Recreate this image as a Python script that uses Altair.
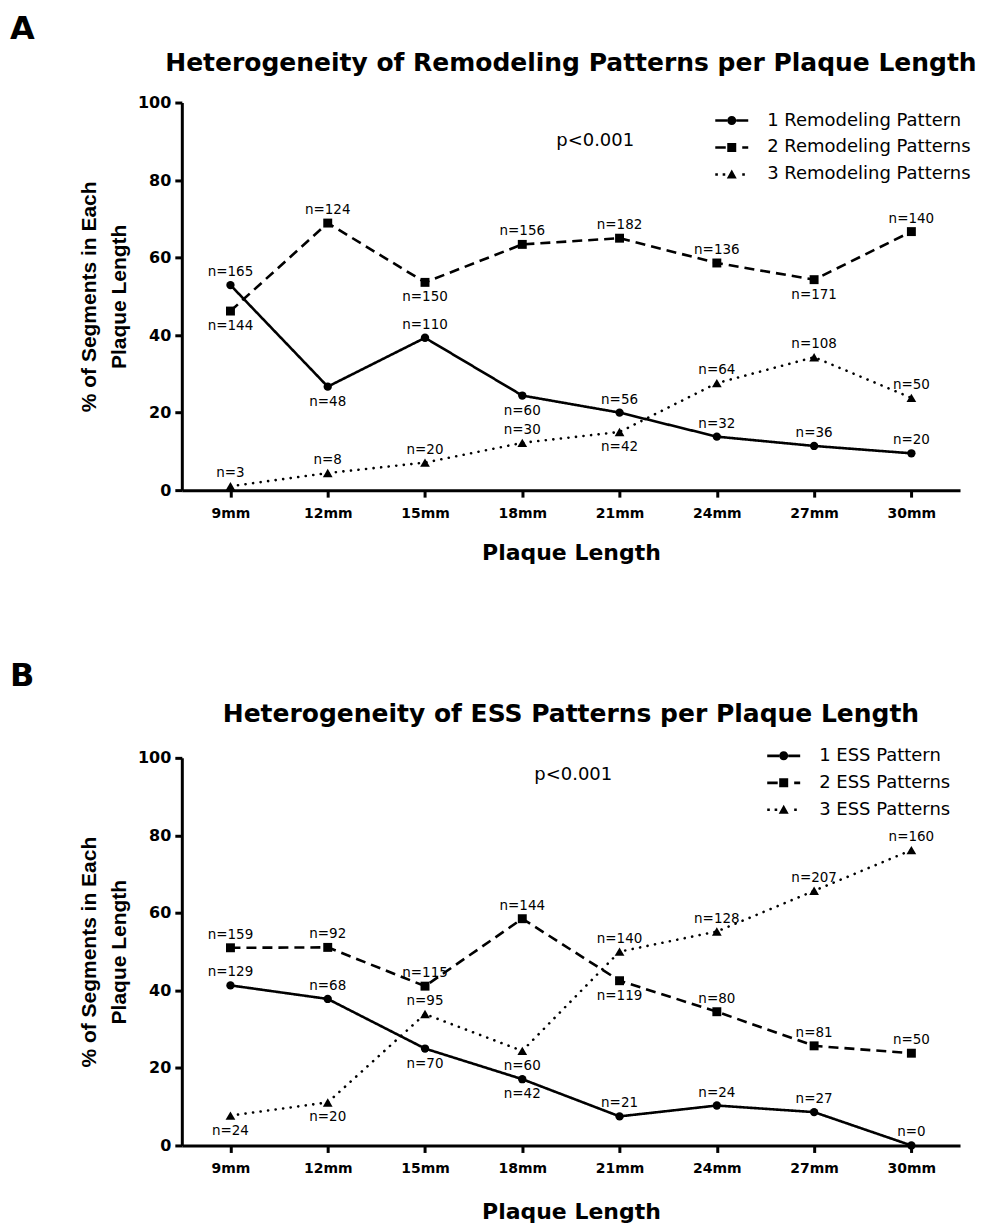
import altair as alt
import pandas as pd

lengths = ["9mm", "12mm", "15mm", "18mm", "21mm", "24mm", "27mm", "30mm"]

# ---- Panel A: remodeling patterns ----
a_names = ["1 Remodeling Pattern", "2 Remodeling Patterns", "3 Remodeling Patterns"]
a_pct_1 = [52.9, 26.7, 39.3, 24.4, 20.0, 13.8, 11.4, 9.5]
a_pct_2 = [46.2, 68.9, 53.6, 63.4, 65.0, 58.6, 54.3, 66.7]
a_pct_3 = [1.0, 4.4, 7.1, 12.2, 15.0, 27.6, 34.3, 23.8]
a_n_1 = [165, 48, 110, 60, 56, 32, 36, 20]
a_n_2 = [144, 124, 150, 156, 182, 136, 171, 140]
a_n_3 = [3, 8, 20, 30, 42, 64, 108, 50]
a_side_1 = ["up", "down", "up", "down", "up", "up", "up", "up"]
a_side_2 = ["down", "up", "down", "up", "up", "up", "down", "up"]
a_side_3 = ["up", "up", "up", "up", "down", "up", "up", "up"]

# ---- Panel B: ESS patterns ----
b_names = ["1 ESS Pattern", "2 ESS Patterns", "3 ESS Patterns"]
b_pct_1 = [41.3, 37.8, 25.0, 17.1, 7.5, 10.3, 8.6, 0.0]
b_pct_2 = [51.0, 51.1, 41.1, 58.5, 42.5, 34.5, 25.7, 23.8]
b_pct_3 = [7.7, 11.1, 33.9, 24.4, 50.0, 55.2, 65.7, 76.2]
b_n_1 = [129, 68, 70, 42, 21, 24, 27, 0]
b_n_2 = [159, 92, 115, 144, 119, 80, 81, 50]
b_n_3 = [24, 20, 95, 60, 140, 128, 207, 160]
b_side_1 = ["up", "up", "down", "down", "up", "up", "up", "up"]
b_side_2 = ["up", "up", "up", "up", "down", "up", "up", "up"]
b_side_3 = ["down", "down", "up", "down", "up", "up", "up", "up"]

p_text = "p<0.001"

FONT = "DejaVu Sans"

# legend glyphs: line + marker drawn as custom symbol paths
LEG_PATHS = [
    # solid line with circle
    "M-1,-0.13L0.2,-0.13L0.2,0.13L-1,0.13Z"
    "M1.1,-0.13L2.3,-0.13L2.3,0.13L1.1,0.13Z"
    "M0.2,0A0.45,0.45 0 1,1 1.1,0A0.45,0.45 0 1,1 0.2,0Z",
    # dash, square, short dash
    "M-1,-0.13L0.05,-0.13L0.05,0.13L-1,0.13Z"
    "M0.2,-0.45L1.1,-0.45L1.1,0.45L0.2,0.45Z"
    "M1.7,-0.13L2.3,-0.13L2.3,0.13L1.7,0.13Z",
    # dots, triangle, dot
    "M-1,-0.13L-0.74,-0.13L-0.74,0.13L-1,0.13Z"
    "M-0.26,-0.13L0,-0.13L0,0.13L-0.26,0.13Z"
    "M0.65,-0.5L1.15,0.4L0.15,0.4Z"
    "M1.7,-0.13L1.96,-0.13L1.96,0.13L1.7,0.13Z",
]


def build_df(names, pcts, ns, sides):
    rows = []
    for nm, pc, nn, sd in zip(names, pcts, ns, sides):
        for i, (L, v, k, d) in enumerate(zip(lengths, pc, nn, sd)):
            rows.append({"length": L, "idx": i, "pct": v, "n": f"n={k}",
                         "series": nm, "side": d})
    return pd.DataFrame(rows)


def panel(names, pcts, ns, sides, title, leg_x, leg_y, p_x, p_dx, p_y, xt_pad):
    df = build_df(names, pcts, ns, sides)
    x = alt.X("length:N",
              scale=alt.Scale(type="point", domain=lengths, padding=0.5),
              axis=alt.Axis(title="Plaque Length", labelAngle=0,
                            labelFont=FONT, labelFontWeight="bold", labelFontSize=14,
                            labelColor="black", labelPadding=9,
                            tickSize=7, tickWidth=3, tickColor="black",
                            domainColor="black", domainWidth=3,
                            titleFont=FONT, titleFontSize=22, titleFontWeight="bold",
                            titleColor="black", titlePadding=xt_pad, grid=False))
    y = alt.Y("pct:Q",
              scale=alt.Scale(domain=[0, 100]),
              axis=alt.Axis(values=[0, 20, 40, 60, 80, 100],
                            title=["% of Segments in Each", "Plaque Length"],
                            labelFont=FONT, labelFontWeight="bold", labelFontSize=16,
                            labelColor="black", labelPadding=4,
                            tickSize=7, tickWidth=3, tickColor="black",
                            domainColor="black", domainWidth=3,
                            titleFont="Liberation Sans", titleFontSize=21,
                            titleFontWeight="bold", titleColor="black",
                            titleLineHeight=30, titlePadding=8, grid=False))
    base = alt.Chart(df).encode(x=x, y=y)
    dashes = [[1, 0], [10, 6], [0.1, 7.5]]
    caps = ["butt", "butt", "round"]
    shapes = ["circle", "square", "triangle-up"]
    sizes = [70, 80, 95]
    layers = []
    for i, nm in enumerate(names):
        layers.append(
            base.transform_filter(alt.datum.series == nm)
            .mark_line(color="black", strokeWidth=2.6, strokeDash=dashes[i],
                       strokeCap=caps[i])
            .encode(order="idx:Q"))
    for i, nm in enumerate(names):
        layers.append(
            base.transform_filter(alt.datum.series == nm)
            .mark_point(shape=shapes[i], filled=True, color="black",
                        size=sizes[i], opacity=1))
    layers.append(
        base.transform_filter(alt.datum.side == "up")
        .mark_text(font=FONT, fontSize=13.5, color="black", dy=-13)
        .encode(text="n:N"))
    layers.append(
        base.transform_filter(alt.datum.side == "down")
        .mark_text(font=FONT, fontSize=13.5, color="black", dy=15)
        .encode(text="n:N"))
    layers.append(
        base.mark_point(filled=True, opacity=0, color="black").encode(
            shape=alt.Shape("series:N",
                            scale=alt.Scale(domain=names, range=LEG_PATHS),
                            legend=alt.Legend(title=None, orient="none",
                                              legendX=leg_x, legendY=leg_y,
                                              symbolSize=400, symbolStrokeWidth=0,
                                              symbolFillColor="black",
                                              symbolOpacity=1,
                                              labelFont=FONT, labelFontSize=18,
                                              labelColor="black", labelOffset=32,
                                              rowPadding=8, padding=0,
                                              labelLimit=400))))
    layers.append(
        alt.Chart(pd.DataFrame({"t": [p_text]}))
        .mark_text(font=FONT, fontSize=18, color="black", dx=p_dx)
        .encode(x=alt.XDatum(p_x, type="nominal"), y=alt.YDatum(p_y, type="quantitative"),
                text="t:N"))
    return alt.layer(*layers).properties(
        width=779, height=388,
        title=alt.Title(title, font=FONT, fontSize=25, fontWeight="bold",
                        color="black", anchor="middle", frame="group", offset=19))


pA = panel(a_names, [a_pct_1, a_pct_2, a_pct_3], [a_n_1, a_n_2, a_n_3],
           [a_side_1, a_side_2, a_side_3],
           "Heterogeneity of Remodeling Patterns per Plaque Length",
           534, 8, "18mm", 73, 90, 22)
pB = panel(b_names, [b_pct_1, b_pct_2, b_pct_3], [b_n_1, b_n_2, b_n_3],
           [b_side_1, b_side_2, b_side_3],
           "Heterogeneity of ESS Patterns per Plaque Length",
           586, -12, "18mm", 51, 95.7, 26)


def lettered(ch, letter, off):
    return alt.VConcatChart(
        vconcat=[ch],
        title=alt.Title(letter, font=FONT, fontSize=32, fontWeight="bold",
                        color="black", anchor="start", dx=-68, offset=off),
    ).resolve_scale(shape="independent")


chart = alt.VConcatChart(
    vconcat=[lettered(pA, "A", 4), lettered(pB, "B", 8)],
    spacing=96,
    padding={"left": 2, "top": 4, "right": 0, "bottom": 0},
).resolve_scale(shape="independent").configure_view(stroke="transparent")

chart.save("out.html", embed_options={"renderer": "svg", "actions": False})
